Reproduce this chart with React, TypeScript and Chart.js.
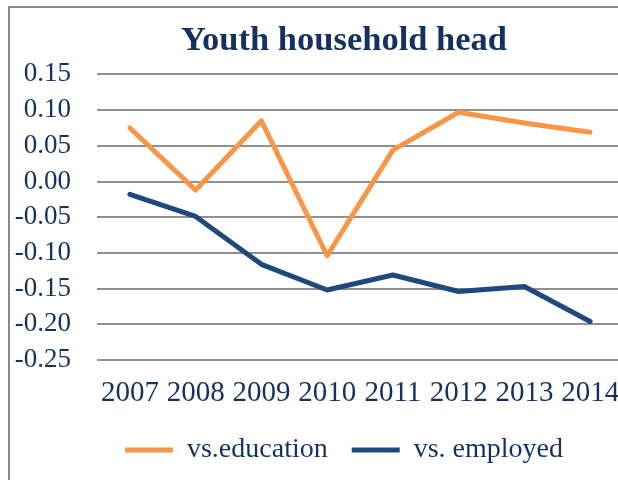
import React, { useEffect, useRef } from "react";
import { Chart, registerables } from "chart.js";

Chart.register(...registerables);

const chartTitle = "Youth household head";
const years = ["2007", "2008", "2009", "2010", "2011", "2012", "2013", "2014"];
const vsEducation = [0.075, -0.012, 0.085, -0.104, 0.044, 0.097, 0.082, 0.069];
const vsEmployed = [-0.018, -0.049, -0.116, -0.152, -0.131, -0.154, -0.147, -0.196];
const seriesNames = ["vs.education", "vs. employed"];
const yTicks = [0.15, 0.1, 0.05, 0.0, -0.05, -0.1, -0.15, -0.2, -0.25];

const FONT = "'Liberation Serif', 'Times New Roman', serif";
const TEXT = "#14315f";
const ORANGE = "#f79646";
const NAVY = "#1f497d";
const GRID = "#909090";

export default function App() {
  const ref = useRef<HTMLCanvasElement | null>(null);

  useEffect(() => {
    if (!ref.current) return;
    const chart = new Chart(ref.current, {
      type: "line",
      data: {
        labels: years,
        datasets: [
          {
            label: seriesNames[0],
            data: vsEducation,
            borderColor: ORANGE,
            backgroundColor: ORANGE,
            borderWidth: 5,
            pointRadius: 0,
            tension: 0,
            borderCapStyle: "round",
            borderJoinStyle: "round",
            yAxisID: "y",
          },
          {
            label: seriesNames[1],
            data: vsEmployed,
            borderColor: NAVY,
            backgroundColor: NAVY,
            borderWidth: 5,
            pointRadius: 0,
            tension: 0,
            borderCapStyle: "round",
            borderJoinStyle: "round",
            yAxisID: "y",
          },
        ],
      },
      options: {
        responsive: false,
        animation: false,
        devicePixelRatio: 1,
        layout: { padding: { left: 3, right: 3, top: 0, bottom: 6 } },
        plugins: {
          title: {
            display: true,
            text: chartTitle,
            color: TEXT,
            font: { family: FONT, size: 34.5, weight: "bold" },
            padding: { top: 12, bottom: 13 },
          },
          legend: {
            position: "bottom",
            labels: {
              usePointStyle: true,
              pointStyle: "line",
              pointStyleWidth: 48,
              color: TEXT,
              font: { family: FONT, size: 28 },
              padding: 24,
            },
          },
          tooltip: { enabled: false },
        },
        scales: {
          x: {
            offset: true,
            grid: { display: false, drawTicks: false },
            border: { display: false },
            ticks: {
              color: TEXT,
              font: { family: FONT, size: 29 },
              padding: 16,
              maxRotation: 0,
              autoSkip: false,
            },
            afterFit: (s: any) => {
              s.height = 52;
            },
          },
          y: {
            min: -0.25,
            max: 0.15,
            afterBuildTicks: (s: any) => {
              s.ticks = yTicks.map((v) => ({ value: v }));
            },
            grid: { color: GRID, lineWidth: 2, drawTicks: false },
            border: { display: false },
            ticks: {
              padding: 26,
              autoSkip: false,
              color: TEXT,
              font: { family: FONT, size: 27 },
              callback: (v: any) => Number(v).toFixed(2),
            },
            afterFit: (s: any) => {
              s.width = 84;
            },
          },
          yR: {
            position: "right",
            grid: { display: false },
            border: { display: false },
            ticks: { display: false },
            afterFit: (s: any) => {
              s.width = 52;
            },
          },
        },
      },
    } as any);
    return () => chart.destroy();
  }, []);

  return (
    <div
      style={{
        position: "fixed",
        left: 8,
        top: 6,
        width: 610,
        height: 474,
        overflow: "hidden",
        background: "#fff",
      }}
    >
      <div
        style={{
          width: 700,
          height: 520,
          borderLeft: "2px solid #888888",
          borderTop: "2px solid #888888",
          boxSizing: "border-box",
        }}
      >
        <canvas ref={ref} width={668} height={472} style={{ display: "block" }} />
      </div>
    </div>
  );
}
